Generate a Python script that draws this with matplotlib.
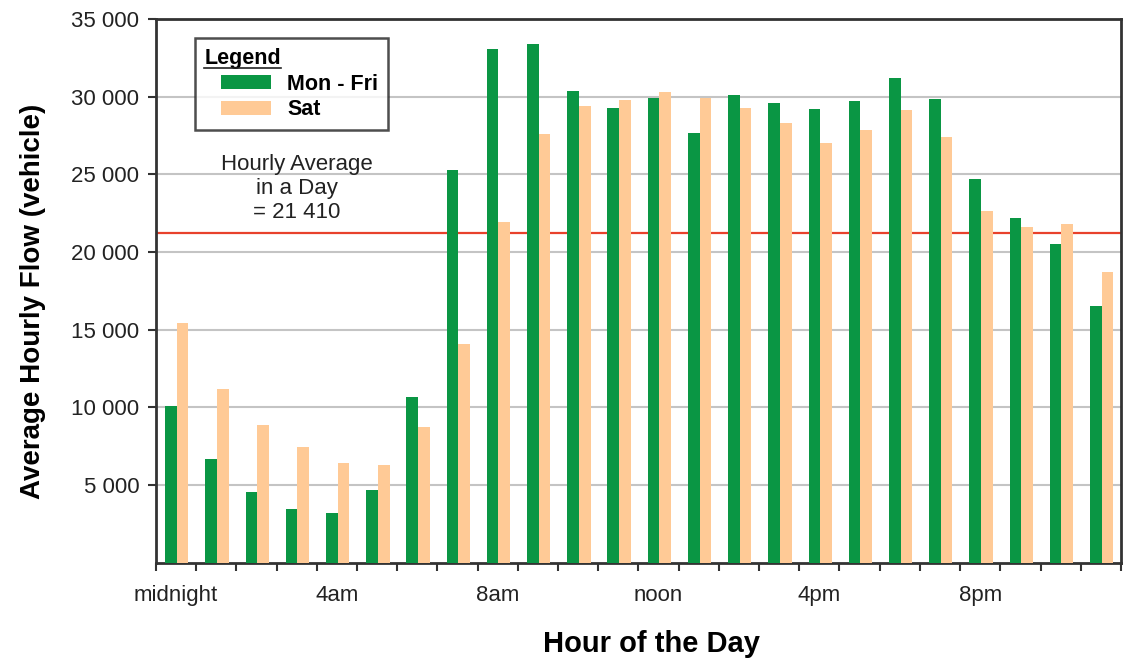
import matplotlib.pyplot as plt
from matplotlib.lines import Line2D
from matplotlib.patches import Patch
from matplotlib.legend_handler import HandlerPatch
import numpy as np

plt.rcParams['font.family'] = ['Liberation Sans', 'DejaVu Sans']

hours = list(range(24))
mon_fri = [10100, 6690, 4570, 3470, 3220, 4700, 10680, 25270, 33050, 33370,
           30350, 29260, 29900, 27650, 30100, 29580, 29190, 29700, 31200, 29830,
           24690, 22180, 20510, 16510]
sat = [15430, 11200, 8880, 7460, 6430, 6300, 8750, 14090, 21940, 27600,
       29400, 29780, 30290, 29900, 29260, 28290, 27000, 27840, 29130, 27390,
       22630, 21600, 21800, 18720]
avg_line = 21200
hour_labels = ['midnight', '4am', '8am', 'noon', '4pm', '8pm']
label_hours = [0, 4, 8, 12, 16, 20]
y_ticks = [5000, 10000, 15000, 20000, 25000, 30000, 35000]

green = '#0a9644'
orange = '#ffca96'

fig = plt.figure(figsize=(11.38, 6.59), dpi=100)
ax = fig.add_axes([0.137, 0.146, 0.848, 0.825])

x = np.array(hours)
w = 0.29
ax.bar(x + 0.02 - w / 2, mon_fri, w, color=green, zorder=3)
ax.bar(x + 0.02 + w / 2, sat, w, color=orange, zorder=3)
ax.axhline(avg_line, color='#e8412c', lw=1.6, zorder=2)

ax.set_xlim(-0.5, 23.5)
ax.set_ylim(0, 35000)
ax.set_yticks(y_ticks)
ax.set_yticklabels([f'{v:,}'.replace(',', ' ') for v in y_ticks])
ax.yaxis.grid(True, color='#c4c4c4', lw=1.5, zorder=0)
ax.set_xticks(np.arange(-0.5, 24, 1))
ax.set_xticklabels([])
ax.set_xticks(label_hours, minor=True)
ax.set_xticklabels(hour_labels, minor=True)
ax.tick_params(axis='x', which='major', length=6, width=1.5, color='#333333')
ax.tick_params(axis='x', which='minor', length=0, pad=16, labelsize=16, colors='#222222')
ax.tick_params(axis='y', length=6, width=1.5, color='#333333', labelsize=16,
               labelcolor='#222222', pad=6)
for s in ax.spines.values():
    s.set_color('#333333')
    s.set_linewidth(2)

ax.set_ylabel('Average Hourly Flow (vehicle)', fontsize=20, fontweight='bold')
ax.set_xlabel('Hour of the Day', fontsize=21, fontweight='bold')
ax.yaxis.set_label_coords(-0.114, 0.48)
ax.xaxis.set_label_coords(0.514, -0.123)

ax.text(3.0, 26300, 'Hourly Average\nin a Day\n= 21 410', ha='center', va='top',
        fontsize=16, color='#222222', linespacing=1.18)

fs = 15.5
fs_px = fs * 100 / 72
handles = [Patch(facecolor=green), Patch(facecolor=orange)]
handler = HandlerPatch(xpad=17 / fs_px)
leg = ax.legend(handles, ['Mon - Fri', 'Sat'], loc='upper left',
                bbox_to_anchor=(0.04, 0.965), title='Legend', alignment='left',
                prop={'weight': 'bold', 'size': fs},
                title_fontproperties={'weight': 'bold', 'size': fs},
                frameon=True, fancybox=False, edgecolor='#222222',
                handlelength=67 / fs_px, handleheight=0.65, labelspacing=0.22,
                borderpad=0.45, handletextpad=0.75, borderaxespad=0,
                handler_map={Patch: handler})
leg.get_frame().set_linewidth(1.8)

fig.canvas.draw()
bb = leg.get_title().get_window_extent()
fig.add_artist(Line2D([bb.x0, bb.x1], [bb.y0 + 1, bb.y0 + 1], color='#222222',
                      lw=1.2, transform=None))

fig.savefig('out.png', dpi=100)
